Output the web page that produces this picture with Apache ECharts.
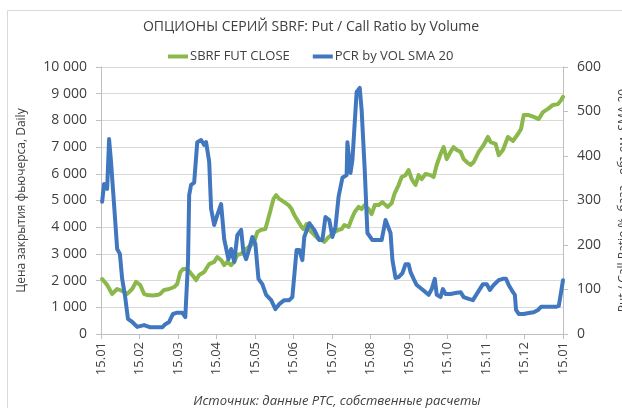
<!DOCTYPE html>
<html>
<head>
<meta charset="utf-8">
<script src="https://cdn.jsdelivr.net/npm/echarts@6/dist/echarts.min.js"></script>
<style>
html,body{margin:0;padding:0;background:#fff;}
#chart{width:622px;height:408px;}
</style>
</head>
<body>
<div id="chart"></div>
<script>
// ---- data (x = months since 15.01) ----
const xTickLabels = ['15.01','15.02','15.03','15.04','15.05','15.06','15.07','15.08','15.09','15.10','15.11','15.12','15.01'];

const priceX = [0.03,0.16,0.29,0.42,0.55,0.68,0.81,0.91,1.02,1.12,1.20,1.33,1.46,1.54,1.64,1.77,1.90,1.98,2.06,2.13,2.24,2.37,2.47,2.55,2.68,2.81,2.94,3.02,3.12,3.20,3.28,3.38,3.46,3.54,3.64,3.77,3.90,3.98,4.06,4.16,4.27,4.37,4.48,4.55,4.63,4.76,4.87,4.95,5.02,5.13,5.21,5.26,5.34,5.41,5.54,5.65,5.73,5.80,5.91,5.99,6.06,6.17,6.25,6.32,6.43,6.51,6.59,6.69,6.77,6.85,6.95,7.03,7.11,7.21,7.31,7.44,7.55,7.63,7.73,7.81,7.91,7.99,8.07,8.17,8.25,8.33,8.43,8.56,8.64,8.72,8.82,8.90,8.98,9.08,9.16,9.24,9.34,9.42,9.50,9.60,9.68,9.81,9.94,10.05,10.12,10.25,10.33,10.44,10.57,10.70,10.83,10.91,10.98,11.11,11.24,11.37,11.48,11.61,11.74,11.87,11.95,12.00];
const priceY = [2060,1835,1500,1685,1610,1500,1685,1950,1835,1500,1460,1440,1460,1500,1650,1685,1760,1870,2320,2430,2430,2210,2020,2210,2320,2620,2700,2880,2770,2580,2700,2580,2700,2960,3000,3180,3330,3450,3820,3900,3930,4460,5060,5200,5060,4940,4830,4680,4460,4200,4010,3930,4120,3900,3710,3560,3520,3450,3630,3710,3820,3900,3930,4080,4010,4310,4570,4760,4680,4830,4680,4490,4830,4830,4940,4760,4900,5280,5580,5880,5950,6140,5800,5580,5950,5800,5990,5950,5880,6330,6740,7000,6550,6820,7000,6890,6820,6550,6440,6330,6440,6820,7080,7380,7190,7120,6700,6890,7380,7230,7490,7680,8200,8200,8130,8050,8310,8430,8580,8610,8760,8880];

const pcrX = [0.03,0.08,0.16,0.21,0.26,0.34,0.42,0.49,0.55,0.62,0.70,0.81,0.94,1.12,1.28,1.46,1.59,1.67,1.77,1.87,1.98,2.11,2.19,2.26,2.29,2.34,2.42,2.50,2.60,2.68,2.73,2.81,2.86,2.94,3.02,3.12,3.20,3.25,3.31,3.38,3.46,3.54,3.64,3.70,3.77,3.85,3.93,4.01,4.09,4.19,4.29,4.42,4.53,4.63,4.76,4.89,4.97,5.08,5.15,5.23,5.28,5.41,5.54,5.67,5.75,5.83,5.93,6.01,6.09,6.17,6.27,6.38,6.40,6.48,6.53,6.64,6.72,6.77,6.85,6.92,7.05,7.16,7.29,7.34,7.39,7.44,7.52,7.57,7.65,7.73,7.83,7.91,7.99,8.04,8.12,8.20,8.33,8.43,8.51,8.59,8.67,8.72,8.82,8.88,8.95,9.08,9.21,9.34,9.42,9.55,9.66,9.79,9.92,10.02,10.10,10.20,10.33,10.44,10.52,10.59,10.70,10.75,10.78,10.85,10.98,11.11,11.24,11.35,11.43,11.56,11.69,11.82,11.89,11.95,12.00];
const pcrY = [297,337,326,438,387,290,191,180,124,88,34,27,16,20,15,15,15,22,27,45,48,48,38,162,312,335,340,431,436,425,431,387,281,245,267,292,213,213,168,191,162,222,234,184,168,191,218,202,124,112,88,76,56,67,76,76,83,189,189,166,218,249,234,211,211,263,256,218,240,308,351,357,431,362,391,544,553,503,369,227,211,211,211,211,256,245,227,166,126,128,137,157,157,139,124,110,101,94,88,101,124,88,83,101,90,90,92,94,83,79,76,94,112,112,99,110,121,124,124,110,94,88,54,45,45,47,49,54,61,61,61,61,63,94,121];

const seriesNames = ['SBRF FUT CLOSE','PCR by VOL SMA 20'];
const titleText = 'ОПЦИОНЫ СЕРИЙ SBRF: Put / Call Ratio by Volume';
const sourceText = 'Источник: данные РТС, собственные расчеты';
const leftAxisName = 'Цена закрытия фьючерса, Daily';
const rightAxisName = 'Put / Call Ratio %, база - объем, SMA 20';

function zip(xs, ys){ return xs.map((x,i)=>[x, ys[i]]); }
function fmtThousands(v){ return String(v).replace(/\B(?=(\d{3})+(?!\d))/g,' '); }

const FONT = 'Open Sans';
const TXT = '#404040';
const AX = '#bfbfbf';

const chart = echarts.init(document.getElementById('chart'), null, {renderer:'canvas'});
chart.setOption({
  animation:false,
  backgroundColor:'#fff',
  textStyle:{fontFamily:FONT},
  graphic:[{type:'rect', shape:{x:7.5,y:10.5,width:700,height:500}, style:{fill:'none', stroke:'#d9d9d9', lineWidth:1}, silent:true, z:-10}],
  title:[
    {text:titleText, left:'center', top:15, textStyle:{fontFamily:FONT, fontSize:14, fontWeight:'normal', color:TXT}},
    {text:sourceText, left:332, textAlign:'center', top:390, textStyle:{fontFamily:FONT, fontSize:13, fontStyle:'italic', fontWeight:'normal', color:TXT}}
  ],
  legend:{
    left:163, top:45, itemWidth:20, itemHeight:4, itemGap:23, icon:'rect',
    textStyle:{fontFamily:FONT, fontSize:13, color:TXT, padding:[0,0,0,-3]},
    data:seriesNames
  },
  grid:{left:101, right:59, top:67, bottom:74, containLabel:false, outerBoundsMode:'none'},
  xAxis:{
    type:'value', min:0, max:12, interval:1,
    axisLine:{show:true, lineStyle:{color:AX, width:1}},
    axisTick:{show:true, length:5, lineStyle:{color:AX}},
    splitLine:{show:false},
    axisLabel:{rotate:90, fontSize:13, color:TXT, margin:8, formatter:(v)=>xTickLabels[Math.round(v)]}
  },
  yAxis:[
    {
      type:'value', min:0, max:10000, interval:1000, position:'left',
      name:leftAxisName, nameLocation:'middle', nameGap:73, nameRotate:90,
      nameTextStyle:{fontFamily:FONT, fontSize:12, color:TXT},
      axisLine:{show:true, lineStyle:{color:AX}},
      axisTick:{show:true, length:5, lineStyle:{color:AX}},
      splitLine:{show:true, lineStyle:{color:'#d9d9d9', width:1}},
      axisLabel:{fontSize:14, color:TXT, margin:14, formatter:(v)=>fmtThousands(v)}
    },
    {
      type:'value', min:0, max:600, interval:100, position:'right',
      name:rightAxisName, nameLocation:'middle', nameGap:55, nameRotate:90,
      nameTextStyle:{fontFamily:FONT, fontSize:12, color:TXT},
      axisLine:{show:true, lineStyle:{color:AX}},
      axisTick:{show:true, length:5, lineStyle:{color:AX}},
      splitLine:{show:false},
      axisLabel:{fontSize:14, color:TXT, margin:14}
    }
  ],
  series:[
    {name:seriesNames[0], type:'line', yAxisIndex:0, showSymbol:false, symbol:'none',
     data:zip(priceX, priceY), lineStyle:{color:'#8ab84b', width:4, join:'round', cap:'round'}, itemStyle:{color:'#8ab84b'}},
    {name:seriesNames[1], type:'line', yAxisIndex:1, showSymbol:false, symbol:'none',
     data:zip(pcrX, pcrY), lineStyle:{color:'#4177bf', width:4, join:'round', cap:'round'}, itemStyle:{color:'#4177bf'}}
  ]
});
</script>
</body>
</html>
